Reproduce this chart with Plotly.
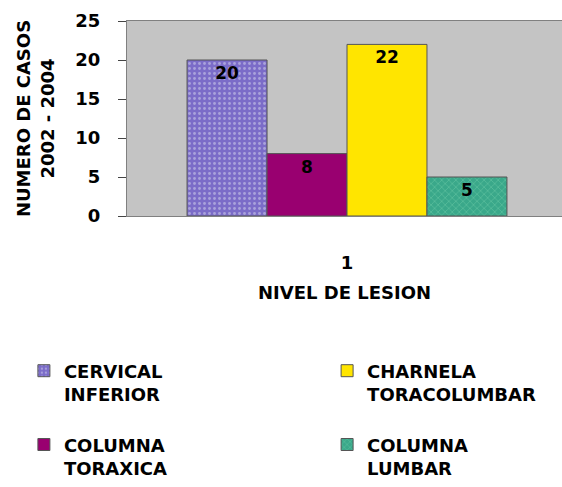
import plotly.graph_objects as go

categories = ["1"]
series_names = ["CERVICAL<br>INFERIOR", "COLUMNA<br>TORAXICA", "CHARNELA<br>TORACOLUMBAR", "COLUMNA<br>LUMBAR"]
series_values = [[20], [8], [22], [5]]
series_colors = ["#7b6cc8", "#990070", "#ffe500", "#3aa88a"]
series_patterns = [".", "", "", "x"]
series_legends = ["legend", "legend", "legend2", "legend2"]
y_ticks = [0, 5, 10, 15, 20, 25]

FONT = "DejaVu Sans"

fig = go.Figure()
for name, vals, col, pat, leg in zip(series_names, series_values, series_colors, series_patterns, series_legends):
    fig.add_trace(go.Bar(
        x=categories, y=vals, name=name,
        marker=dict(color=col, line=dict(color="#555555", width=1),
                    pattern=dict(shape=pat, fgcolor="#d8d8f0" if pat == "." else "#7fd8b0",
                                 size=5, solidity=0.25)),
        text=[str(v) for v in vals], textposition="inside", insidetextanchor="end",
        textangle=0,
        textfont=dict(family=FONT, size=17, color="black", weight="bold"),
        legend=leg, legendgroup=name,
    ))

fig.update_layout(
    width=562, height=487,
    margin=dict(l=127, r=0, t=21, b=269),
    paper_bgcolor="white", plot_bgcolor="#c4c4c4",
    barmode="group", bargap=0.273, bargroupgap=0,
    font=dict(family=FONT, size=18, color="black", weight="bold"),
    legend=dict(x=-0.237, y=-0.70, xanchor="left", yanchor="top", valign="top",
                tracegroupgap=24, font=dict(family=FONT, size=18, weight="bold"),
                bgcolor="rgba(0,0,0,0)"),
    legend2=dict(x=0.46, y=-0.70, xanchor="left", yanchor="top", valign="top",
                 tracegroupgap=24, font=dict(family=FONT, size=18, weight="bold"),
                 bgcolor="rgba(0,0,0,0)"),
    showlegend=True,
)
fig.update_xaxes(type="category", range=[-0.5, 0.4886], showgrid=False,
                 showline=True, linecolor="#808080", mirror=True,
                 ticks="", ticklabelstandoff=30,
                 tickfont=dict(family=FONT, size=18, weight="bold"),
                 title=dict(text="NIVEL DE LESION", standoff=14,
                            font=dict(family=FONT, size=18, weight="bold")))
fig.update_yaxes(range=[0, 25], tickvals=y_ticks, showgrid=False, zeroline=False,
                 showline=True, linecolor="#808080", mirror=True,
                 ticks="outside", ticklen=8, tickcolor="#444444", ticklabelstandoff=14,
                 tickfont=dict(family=FONT, size=18, weight="bold"),
                 title=dict(text="NUMERO DE CASOS<br>2002 - 2004", standoff=16,
                            font=dict(family=FONT, size=18, weight="bold")))

fig.write_html("out.html")
